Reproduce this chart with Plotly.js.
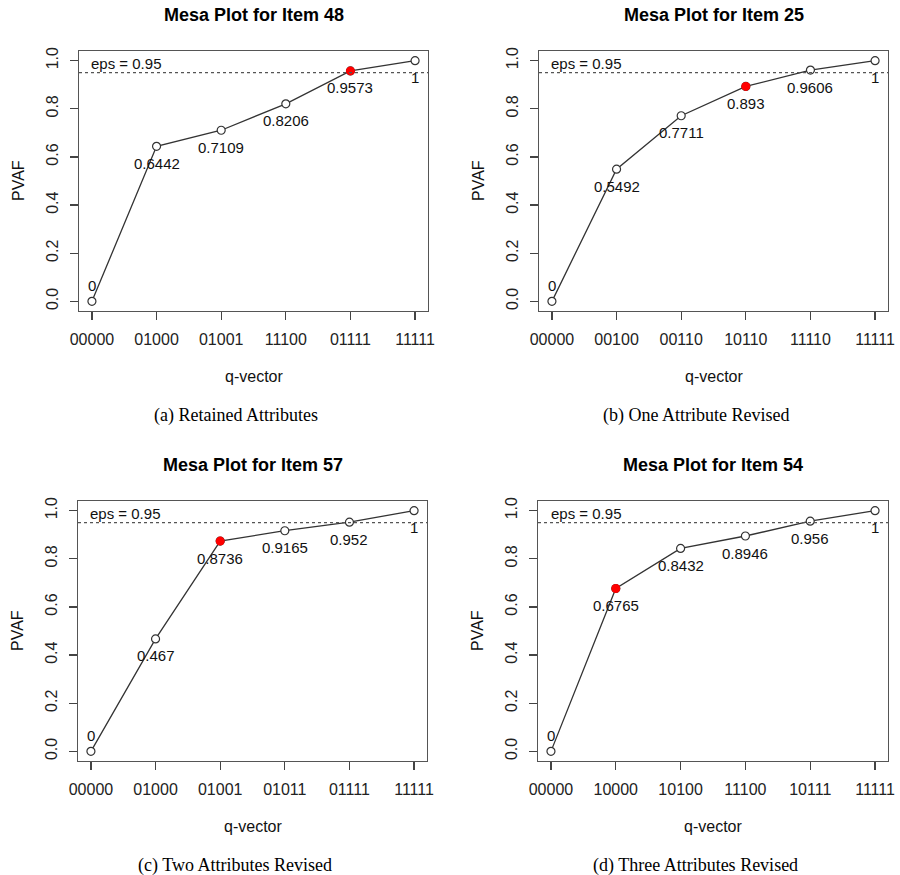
<!DOCTYPE html>
<html>
<head>
<meta charset="utf-8">
<script src="https://cdn.plot.ly/plotly-3.0.1.min.js"></script>
<style>html,body{margin:0;padding:0;background:#fff;}#chart{width:900px;height:875px;}</style>
</head>
<body>
<div id="chart"></div>
<script>
// ---- data ----
const titles = ["Mesa Plot for Item 48", "Mesa Plot for Item 25", "Mesa Plot for Item 57", "Mesa Plot for Item 54"];
const captions = ["(a) Retained Attributes", "(b) One Attribute Revised", "(c) Two Attributes Revised", "(d) Three Attributes Revised"];
const catsA = ["00000", "01000", "01001", "11100", "01111", "11111"];
const valsA = [0, 0.6442, 0.7109, 0.8206, 0.9573, 1];
const catsB = ["00000", "00100", "00110", "10110", "11110", "11111"];
const valsB = [0, 0.5492, 0.7711, 0.893, 0.9606, 1];
const catsC = ["00000", "01000", "01001", "01011", "01111", "11111"];
const valsC = [0, 0.467, 0.8736, 0.9165, 0.952, 1];
const catsD = ["00000", "10000", "10100", "11100", "10111", "11111"];
const valsD = [0, 0.6765, 0.8432, 0.8946, 0.956, 1];
const selectedIdx = [4, 3, 2, 1];
const eps = 0.95;
const yTicks = [0, 0.2, 0.4, 0.6, 0.8, 1.0];

// ---- layout geometry (pixels) ----
const W = 900, H = 875;
const boxes = [
  {l: 79, r: 428, t: 51, b: 311, capX: 236},
  {l: 539, r: 888, t: 51, b: 311, capX: 696},
  {l: 78, r: 427, t: 501, b: 761, capX: 235},
  {l: 538, r: 888, t: 501, b: 761, capX: 695}
];
const cats = [catsA, catsB, catsC, catsD];
const vals = [valsA, valsB, valsC, valsD];

const SANS = '"Liberation Sans", Arial, Helvetica, sans-serif';
const SERIF = '"Liberation Serif", "Times New Roman", serif';
const px = x => x / W;
const py = y => 1 - y / H;

const traces = [];
const annotations = [];
const shapes = [];
const layout = {
  width: W, height: H,
  margin: {l: 0, r: 0, t: 0, b: 0},
  paper_bgcolor: '#fff', plot_bgcolor: '#fff',
  showlegend: false,
  font: {family: SANS, size: 16, color: '#111'}
};

for (let i = 0; i < 4; i++) {
  const bx = boxes[i];
  const sfx = i === 0 ? '' : String(i + 1);
  const xa = 'x' + sfx, ya = 'y' + sfx;
  const c = cats[i], v = vals[i], k = selectedIdx[i];

  layout['xaxis' + sfx] = {
    domain: [px(bx.l), px(bx.r)],
    anchor: ya,
    type: 'category',
    categoryarray: c, categoryorder: 'array',
    range: [-0.2, 5.2],
    showline: true, mirror: true, linecolor: '#555', linewidth: 1.2,
    ticks: 'outside', ticklen: 8, tickcolor: '#444', tickwidth: 1.2,
    ticklabelstandoff: 6,
    showgrid: false, zeroline: false,
    tickfont: {family: SANS, size: 16, color: '#222'},
    fixedrange: true
  };
  layout['yaxis' + sfx] = {
    domain: [py(bx.b), py(bx.t)],
    anchor: xa,
    range: [-0.04, 1.04],
    tickvals: yTicks, tickformat: '.1f',
    tickangle: -90,
    showline: true, mirror: true, linecolor: '#555', linewidth: 1.2,
    ticks: 'outside', ticklen: 8, tickcolor: '#444', tickwidth: 1.2,
    ticklabelstandoff: 5,
    showgrid: false, zeroline: false,
    tickfont: {family: SANS, size: 16, color: '#222'},
    fixedrange: true
  };

  // line with open circles
  traces.push({
    type: 'scatter', mode: 'lines+markers',
    x: c, y: v, xaxis: xa, yaxis: ya,
    line: {color: '#333', width: 1.3},
    marker: {symbol: 'circle', size: 8, color: '#fff', line: {color: '#333', width: 1.2}},
    hoverinfo: 'x+y'
  });
  // selected point in red
  traces.push({
    type: 'scatter', mode: 'markers',
    x: [c[k]], y: [v[k]], xaxis: xa, yaxis: ya,
    marker: {symbol: 'circle', size: 9, color: '#ff0000', line: {width: 0}},
    hoverinfo: 'x+y'
  });

  // eps dotted line
  shapes.push({
    type: 'line', xref: xa + ' domain', yref: ya,
    x0: 0, x1: 1, y0: eps, y1: eps,
    line: {color: '#555', width: 1.4, dash: 'dot'}
  });
  annotations.push({
    xref: xa + ' domain', yref: ya, x: 0.03, y: eps, yshift: 9,
    xanchor: 'left', yanchor: 'middle', showarrow: false,
    text: 'eps = ' + eps, font: {family: SANS, size: 15, color: '#111'}
  });

  // value labels (x given as category index on the category axis)
  for (let j = 0; j < c.length; j++) {
    annotations.push({
      xref: xa, yref: ya, x: c.indexOf(c[j]), y: v[j],
      yshift: j === 0 ? 16 : -17,
      xanchor: 'center', yanchor: 'middle', showarrow: false,
      text: String(v[j]), font: {family: SANS, size: 15, color: '#111'}
    });
  }

  const cx = (bx.l + bx.r) / 2;
  // title
  annotations.push({
    xref: 'paper', yref: 'paper', x: px(cx), y: py(bx.t - 36),
    xanchor: 'center', yanchor: 'middle', showarrow: false,
    text: '<b>' + titles[i] + '</b>', font: {family: SANS, size: 18, color: '#000'}
  });
  // y title
  annotations.push({
    xref: 'paper', yref: 'paper', x: px(bx.l - 61), y: py((bx.t + bx.b) / 2),
    xanchor: 'center', yanchor: 'middle', showarrow: false, textangle: -90,
    text: 'PVAF', font: {family: SANS, size: 16, color: '#111'}
  });
  // x title
  annotations.push({
    xref: 'paper', yref: 'paper', x: px(cx), y: py(bx.b + 65),
    xanchor: 'center', yanchor: 'middle', showarrow: false,
    text: 'q-vector', font: {family: SANS, size: 16, color: '#111'}
  });
  // caption
  annotations.push({
    xref: 'paper', yref: 'paper', x: px(bx.capX), y: py(bx.b + 104),
    xanchor: 'center', yanchor: 'middle', showarrow: false,
    text: captions[i], font: {family: SERIF, size: 18, color: '#000'}
  });
}

layout.annotations = annotations;
layout.shapes = shapes;

Plotly.newPlot('chart', traces, layout, {displayModeBar: false, staticPlot: true});
</script>
</body>
</html>
